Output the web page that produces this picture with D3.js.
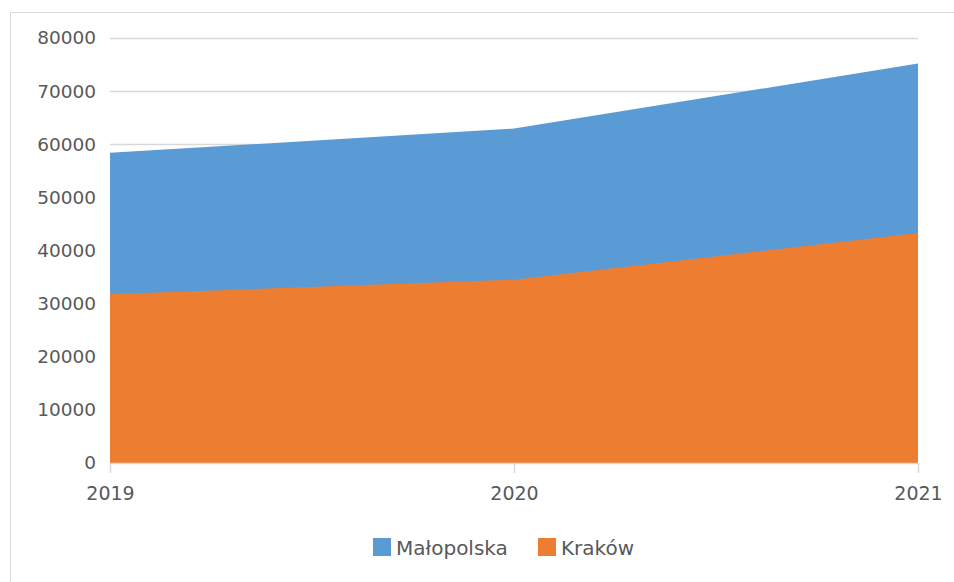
<!DOCTYPE html>
<html><head><meta charset="utf-8">
<script src="https://cdn.jsdelivr.net/npm/d3@7"></script>
<style>body{margin:0;background:#fff;}svg{display:block;}</style>
</head><body><svg id="c" width="954" height="582"></svg>
<script>
const years = ["2019", "2020", "2021"];
const malopolska = [58400, 62950, 75200];
const krakow = [31750, 34500, 43300];
const yTicks = [0, 10000, 20000, 30000, 40000, 50000, 60000, 70000, 80000];
const seriesNames = ["Małopolska", "Kraków"];
const seriesColors = ["#5B9BD5", "#ED7D31"];

(function () {
const svg = d3.select("#c");
const font = "DejaVu Sans, sans-serif";
const mLeft = 110, mRight = 918, mTop = 38, mBottom = 463;

// chart border
svg.append("path").attr("d", "M10.5,582 L10.5,12.5 L954,12.5")
  .attr("fill", "none").attr("stroke", "#d9d9d9").attr("stroke-width", 1);

const x = d3.scalePoint().domain(years).range([mLeft, mRight]);
const y = d3.scaleLinear().domain([0, 80000]).range([mBottom, mTop]);

// gridlines
svg.append("g").selectAll("line").data(yTicks.filter(d => d > 0)).join("line")
  .attr("x1", mLeft).attr("x2", mRight)
  .attr("y1", d => Math.round(y(d)) + 0.5).attr("y2", d => Math.round(y(d)) + 0.5)
  .attr("stroke", "#d9d9d9").attr("stroke-width", 1.5);

const area = d3.area().x((d, i) => x(years[i])).y0(y(0)).y1(d => y(d));
[malopolska, krakow].forEach((s, k) => {
  svg.append("path").datum(s).attr("d", area).attr("fill", seriesColors[k]);
});

// y axis labels
const yAxis = d3.axisLeft(y).tickValues(yTicks).tickSize(0).tickPadding(14).tickFormat(d3.format("d"));
const gy = svg.append("g").attr("transform", `translate(${mLeft},0)`).call(yAxis);
gy.select(".domain").remove();
gy.selectAll("text").attr("font-family", font).attr("font-size", "18.5px").attr("fill", "#595959");

// x axis
const xAxis = d3.axisBottom(x).tickSize(10).tickPadding(14);
const gx = svg.append("g").attr("transform", `translate(0,${mBottom})`).call(xAxis);
gx.select(".domain").attr("stroke", "#d9d9d9").attr("stroke-width", 1.5).attr("d", `M${mLeft},0.5H${mRight}`);
gx.selectAll(".tick line").attr("stroke", "#d9d9d9").attr("stroke-width", 1.5);
gx.selectAll("text").attr("font-family", font).attr("font-size", "19px").attr("fill", "#595959");

// legend
const legendItems = [
  {name: seriesNames[0], color: seriesColors[0], x: 373},
  {name: seriesNames[1], color: seriesColors[1], x: 538}
];
const lg = svg.append("g");
legendItems.forEach(it => {
  lg.append("rect").attr("x", it.x).attr("y", 538).attr("width", 18).attr("height", 18).attr("fill", it.color);
  lg.append("text").attr("x", it.x + 23).attr("y", 555).attr("font-family", font).attr("font-size", "20px")
    .attr("fill", "#595959").text(it.name);
});
})();
</script></body></html>
